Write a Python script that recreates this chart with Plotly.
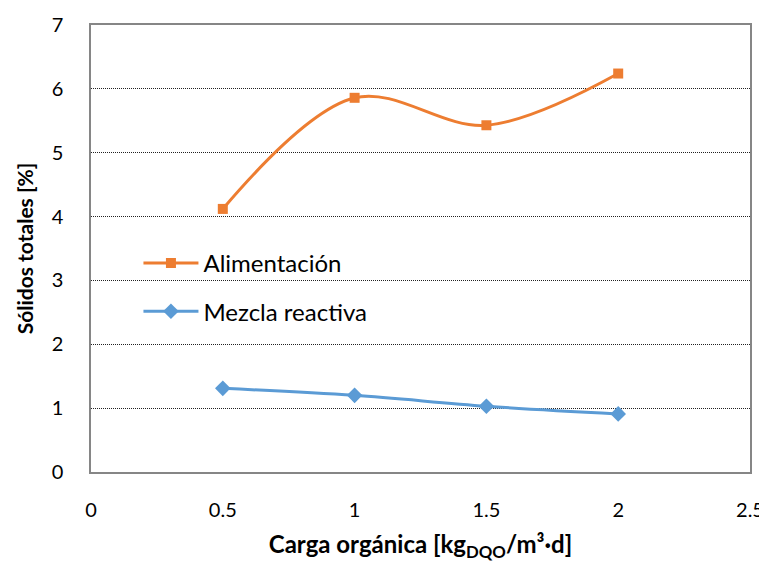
import plotly.graph_objects as go

carga = [0.5, 1, 1.5, 2]
alimentacion = [4.12, 5.86, 5.43, 6.24]
mezcla = [1.31, 1.20, 1.03, 0.91]

x_ticks = [0, 0.5, 1, 1.5, 2, 2.5]
x_labels = ["0", "0.5", "1", "1.5", "2", "2.5"]
y_ticks = [0, 1, 2, 3, 4, 5, 6, 7]

FONT = "Lato, Carlito, Calibri, sans-serif"

fig = go.Figure()
fig.add_trace(go.Scatter(
    x=carga, y=alimentacion, name="Alimentación", mode="lines+markers",
    legendgroup="a",
    line=dict(color="#ED7D31", width=3, shape="spline", smoothing=1.0),
    marker=dict(symbol="square", size=10, color="#ED7D31"),
))
fig.add_trace(go.Scatter(
    x=carga, y=mezcla, name="Mezcla reactiva", mode="lines+markers",
    legendgroup="b",
    line=dict(color="#5B9BD5", width=3, shape="spline", smoothing=1.0),
    marker=dict(symbol="diamond", size=12, color="#5B9BD5"),
))

fig.update_layout(
    width=759, height=554,
    margin=dict(l=83, r=17, t=17, b=90),
    paper_bgcolor="white", plot_bgcolor="white",
    font=dict(family=FONT, size=20, color="black"),
    legend=dict(x=0.072, y=0.517, xanchor="left", yanchor="top",
                bgcolor="rgba(0,0,0,0)", font=dict(size=24),
                tracegroupgap=14, itemwidth=55),
    xaxis=dict(
        range=[0, 2.5], tickvals=x_ticks, ticktext=x_labels,
        showgrid=False, zeroline=False, automargin=False,
        showline=True, mirror=True, linecolor="#868686", linewidth=1.5,
        ticks="", ticklabelstandoff=19, tickfont=dict(size=20),
        title=dict(text="<b>Carga orgánica [kg<sub>DQO</sub>/m³·d]</b>", standoff=17,
                   font=dict(size=24)),
    ),
    yaxis=dict(
        range=[0, 7], tickvals=y_ticks,
        showgrid=True, gridcolor="#222222", griddash="1px,1px", gridwidth=1,
        zeroline=False, automargin=False,
        showline=True, mirror=True, linecolor="#868686", linewidth=1.5,
        ticks="", ticklabelstandoff=22, tickfont=dict(size=20),
        title=dict(text="<b>Sólidos totales [%]</b>", standoff=12, font=dict(size=21)),
    ),
)

fig.write_html("out.html")
